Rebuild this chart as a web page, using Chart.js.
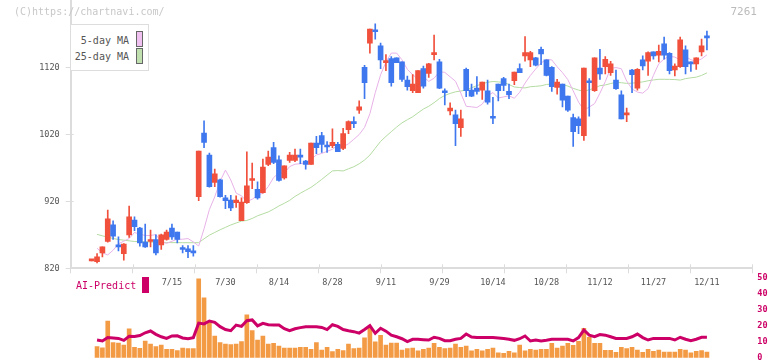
<!DOCTYPE html>
<html><head><meta charset="utf-8">
<script src="https://cdn.jsdelivr.net/npm/chart.js@4.4.1/dist/chart.umd.min.js"></script>
<style>
html,body{margin:0;padding:0;background:#fff;}
#wrap{position:relative;width:772px;height:361px;overflow:hidden;font-family:"DejaVu Sans Mono",monospace;}
canvas{position:absolute;left:0;}
#main{top:0;}
#sub{top:270px;}
.t{position:absolute;white-space:nowrap;line-height:10px;font-size:10px;}
</style></head><body>
<div id="wrap">
<canvas id="main" width="772" height="300" style="width:772px;height:300px"></canvas>
<canvas id="sub" width="772" height="91" style="width:772px;height:91px"></canvas>
<div class="t" style="left:14px;top:7px;color:#c8c8c8;">(C)https://chartnavi.com/</div>
<div class="t" style="right:15px;top:7px;color:#bbb;font-size:11px;">7261</div>
<div style="position:absolute;left:70px;top:24px;width:77px;height:45px;border:1px solid #ddd;background:#fff;"></div>
<div class="t" style="right:643px;top:36px;color:#555;">5-day MA</div>
<div class="t" style="right:643px;top:52px;color:#555;">25-day MA</div>
<div style="position:absolute;left:136px;top:31px;width:5px;height:14px;border:1px solid #666;background:#f0c0f0;"></div>
<div style="position:absolute;left:136px;top:48px;width:5px;height:14px;border:1px solid #666;background:#c0e0b0;"></div>
<div class="t" style="left:76px;top:281px;color:#cc0066;">AI-Predict</div>
<div style="position:absolute;left:142px;top:277px;width:7px;height:16px;background:#cc0066;"></div>
</div>
<script>
// ---- data ----
const dates = [
 '6/24','6/25','6/26','6/27','6/30','7/1','7/2','7/3','7/4','7/7',
 '7/8','7/9','7/10','7/11','7/14','7/15','7/16','7/17','7/18','7/22',
 '7/23','7/24','7/25','7/28','7/29','7/30','7/31','8/1','8/4','8/5',
 '8/6','8/7','8/8','8/12','8/13','8/14','8/15','8/18','8/19','8/20',
 '8/21','8/22','8/25','8/26','8/27','8/28','8/29','9/1','9/2','9/3',
 '9/4','9/5','9/8','9/9','9/10','9/11','9/12','9/16','9/17','9/18',
 '9/19','9/22','9/24','9/25','9/26','9/29','9/30','10/1','10/2','10/3',
 '10/6','10/7','10/8','10/9','10/10','10/14','10/15','10/16','10/17','10/20',
 '10/21','10/22','10/23','10/24','10/27','10/28','10/29','10/30','10/31','11/4',
 '11/5','11/6','11/7','11/10','11/11','11/12','11/13','11/14','11/17','11/18',
 '11/19','11/20','11/21','11/25','11/26','11/27','11/28','12/1','12/2','12/3',
 '12/4','12/5','12/8','12/9','12/10','12/11'];
const tickLabels = ['7/15','7/30','8/14','8/28','9/11','9/29','10/14','10/28','11/12','11/27','12/11'];
const yTicks = [820, 920, 1020, 1120];
const open = [
 831,830,843,860,885,853,842,870,892,880,
 859,860,863,855,863,880,874,849,849,846,
 927,1022,989,948,952,925,922,918,891,918,
 951,938,933,975,1000,982,955,981,981,987,
 980,975,1007,1018,1002,1003,1005,999,1027,1037,
 1056,1120,1156,1174,1152,1127,1133,1134,1128,1101,
 1085,1082,1118,1111,1139,1128,1083,1055,1049,1030,
 1117,1086,1089,1086,1085,1046,1095,1103,1084,1100,
 1118,1137,1131,1134,1147,1131,1120,1090,1095,1077,
 1045,1043,1018,1098,1085,1119,1121,1112,1101,1079,
 1049,1116,1089,1131,1129,1143,1138,1155,1141,1116,
 1121,1146,1126,1125,1143,1165];
const high = [
 831,842,852,907,891,867,857,913,897,881,
 886,877,870,871,877,886,874,854,854,854,
 995,1040,992,968,953,929,929,928,925,994,
 977,949,983,995,1008,988,973,993,998,998,
 981,1007,1017,1023,1009,1028,1008,1029,1040,1046,
 1070,1123,1177,1185,1156,1139,1136,1134,1128,1107,
 1109,1115,1122,1126,1168,1132,1088,1067,1056,1056,
 1119,1095,1106,1098,1101,1075,1095,1105,1095,1113,
 1125,1166,1144,1135,1150,1131,1121,1102,1095,1077,
 1050,1046,1119,1103,1134,1147,1136,1129,1116,1085,
 1059,1117,1118,1137,1143,1143,1153,1165,1142,1125,
 1165,1152,1128,1134,1162,1174];
const low = [
 831,828,837,859,863,846,832,866,876,853,
 851,852,840,848,862,863,858,843,836,838,
 921,1000,941,942,926,909,906,911,891,917,
 939,923,932,973,976,950,953,978,979,976,
 968,975,991,993,993,1000,994,997,1021,1030,
 1051,1073,1141,1162,1118,1115,1092,1127,1099,1086,
 1082,1082,1089,1105,1131,1088,1064,1049,1003,1017,
 1076,1076,1080,1072,1065,1036,1070,1085,1073,1094,
 1112,1129,1121,1122,1124,1107,1084,1080,1061,1054,
 1002,1021,1011,1047,1084,1102,1110,1108,1087,1043,
 1039,1082,1086,1116,1108,1132,1128,1132,1110,1107,
 1120,1110,1114,1117,1137,1146];
const close = [
 831,837,852,894,868,852,856,897,882,858,
 852,863,843,870,874,867,863,848,845,843,
 995,1008,942,961,927,921,910,922,919,943,
 952,925,971,986,978,951,973,989,989,986,
 975,1007,1000,1005,1001,1008,994,1021,1039,1036,
 1061,1097,1177,1173,1131,1128,1097,1127,1102,1091,
 1095,1115,1092,1125,1141,1089,1082,1059,1036,1043,
 1085,1077,1084,1098,1068,1044,1085,1093,1079,1113,
 1112,1142,1142,1123,1140,1108,1091,1098,1071,1056,
 1024,1033,1119,1097,1134,1110,1132,1125,1088,1043,
 1050,1109,1117,1122,1142,1137,1144,1138,1115,1122,
 1161,1121,1125,1134,1152,1164];
const ma5 = [
 null,850,843,840,847,856.4,860.6,864.4,873.4,871.0,
 869.0,869.0,870.4,859.6,857.2,860.4,863.4,863.4,864.4,859.4,
 853.2,878.8,907.8,926.6,949.8,966.6,951.8,932.2,928.2,919.8,
 923.0,929.2,932.2,942.0,955.4,962.4,962.2,971.8,975.4,976.0,
 977.6,982.4,989.2,991.4,994.6,997.6,1004.2,1001.6,1005.8,1012.6,
 1019.6,1030.2,1050.8,1082.0,1108.8,1127.8,1141.2,1141.2,1131.2,1117.0,
 1109.0,1102.4,1106.0,1099.0,1103.6,1113.6,1112.4,1105.8,1099.2,1081.4,
 1061.8,1061.0,1060.0,1065.0,1077.4,1082.4,1074.2,1075.8,1077.6,1073.8,
 1082.8,1096.4,1107.8,1117.6,1126.4,1131.8,1131.0,1120.8,1112.0,1101.6,
 1084.8,1068.0,1056.4,1060.6,1065.8,1081.4,1098.6,1118.4,1119.6,1117.8,
 1099.6,1087.6,1083.0,1081.4,1088.2,1108.0,1125.4,1132.4,1136.6,1135.2,
 1131.2,1136.0,1131.4,1128.8,1132.6,1138.6];
const ma25 = [
 null,870.7,868.5,866.5,864.5,863,862,861,860,859.8,
 859.5,859.2,859,858.8,858.5,858.3,858.3,858.2,858.2,858.2,
 858.3,864,869.5,873.5,877.5,881.1,884.7,887.6,890.4,891.4,
 894.4,898.4,901.2,904.1,908.3,913.1,917.0,921.4,927.3,932.0,
 936.5,940.8,946.6,952.7,959.1,965.4,965.9,965.3,968.5,971.6,
 976.0,981.6,989.0,999.2,1009.4,1016.9,1023.9,1030.8,1037.1,1041.7,
 1046.2,1052.0,1057.7,1061.8,1067.2,1073.4,1078.0,1081.0,1083.4,1084.6,
 1086.3,1089.4,1092.7,1095.2,1097.6,1098.8,1098.2,1097.7,1094.3,1090.6,
 1089.8,1089.2,1091.0,1091.6,1092.4,1094.4,1094.9,1093.9,1094.2,1092.0,
 1088.6,1086.0,1084.1,1086.5,1088.9,1092.6,1093.6,1095.8,1097.4,1097.0,
 1096.0,1096.3,1097.2,1098.2,1099.9,1101.1,1102.1,1102.1,1102.0,1101.7,
 1100.9,1103.1,1104.3,1105.3,1107.9,1111.7];
const aiBars = [
 null,6.9,6.2,22.8,9.4,9.1,7.9,17.9,6.5,5.8,
 10.4,8.5,6.9,7.9,5.2,5.2,4.4,6.0,5.6,5.6,
 49.0,37.3,21.8,13.5,9.4,8.5,8.1,8.5,10.0,26.6,
 16.8,11.0,13.5,8.5,9.0,7.3,6.0,6.0,6.0,6.5,
 6.5,5.2,9.4,4.8,6.5,3.8,5.2,4.4,8.5,5.6,
 6.0,12.3,18.3,9.8,13.9,7.9,9.1,9.1,4.8,5.6,
 6.0,4.2,5.2,6.0,9.0,6.5,5.6,6.0,8.5,6.5,
 7.3,4.2,5.2,4.2,5.2,6.0,3.0,2.7,4.0,3.0,
 7.9,4.2,5.2,4.8,5.2,5.2,9.0,6.0,7.3,9.0,
 7.7,10.2,18.3,12.7,9.0,9.0,4.6,4.6,3.3,6.5,
 5.6,6.5,4.8,3.3,5.2,4.0,4.8,3.5,3.5,3.5,
 5.2,4.8,3.1,4.0,4.4,3.5];
const aiLine = [
 null,11.0,10.4,12.5,12.3,12.0,10.8,13.3,13.2,13.8,
 15.5,16.6,14.5,13.0,12.0,13.5,13.6,12.3,11.8,12.5,
 21.5,21.0,22.8,22.0,19.3,17.5,16.8,20.3,19.5,23.0,
 23.5,19.8,21.4,20.5,20.3,20.3,18.0,16.8,18.0,18.7,
 19.3,19.3,19.3,18.8,17.5,20.5,19.5,17.5,16.8,16.2,
 15.3,17.5,19.9,15.2,18.3,16.5,14.0,13.0,11.8,10.0,
 11.4,11.4,11.2,11.0,12.7,12.0,10.6,10.6,11.5,12.0,
 14.7,12.8,12.5,12.5,12.5,12.5,12.3,12.0,11.5,10.8,
 11.8,13.5,10.4,11.0,10.4,10.8,11.4,11.4,11.4,11.4,
 10.4,12.5,17.2,14.0,13.1,14.4,14.0,13.0,12.0,12.0,
 12.0,13.0,14.7,12.5,11.0,12.0,12.0,12.0,12.0,11.0,
 12.7,11.5,10.6,11.5,12.7,12.7];

// ---- styling / layout constants ----
const UP = '#f0503c', DOWN = '#3f78ee';
const AXIS = '#dcdcdc';
const XMIN = -3.925, XMAX = 123.48;
const gridVals = Array.from({length: 12}, (_, k) => XMIN + k * (XMAX - XMIN) / 11);
const labelIdx = tickLabels.map(l => dates.indexOf(l));
const FONT = {family: '"DejaVu Sans Mono", monospace', size: 8.5};

const isUp = i => close[i] >= open[i];
const colors = dates.map((_, i) => isUp(i) ? UP : DOWN);
const pts = arr => arr.map((v, i) => ({x: i, y: v})).filter(p => p.y !== null);

// small inward extension of the axis tick marks (ticks cross the axis line)
const crossTicks = {
  id: 'crossTicks',
  afterDraw(chart) {
    const {ctx, chartArea, scales} = chart;
    ctx.save();
    ctx.strokeStyle = AXIS; ctx.lineWidth = 1;
    ctx.beginPath();
    gridVals.forEach(v => {
      const px = Math.round(scales.x.getPixelForValue(v)) + 0.5;
      ctx.moveTo(px, chartArea.bottom); ctx.lineTo(px, chartArea.bottom - 4);
    });
    yTicks.forEach(v => {
      const py = Math.round(scales.y.getPixelForValue(v)) + 0.5;
      ctx.moveTo(chartArea.left, py); ctx.lineTo(chartArea.left + 3, py);
    });
    ctx.stroke();
    ctx.restore();
  }
};

new Chart(document.getElementById('main'), {
  data: {
    datasets: [
      {type: 'bar', label: 'body', data: dates.map((_, i) => ({x: i, y: [open[i], close[i]]})),
       backgroundColor: colors, borderWidth: 0, barThickness: 5, grouped: false, minBarLength: 2, order: 1},
      {type: 'bar', label: 'wick', data: dates.map((_, i) => ({x: i, y: [low[i], high[i]]})),
       backgroundColor: colors, borderWidth: 0, barThickness: 1, grouped: false, order: 2},
      {type: 'line', label: '5-day MA', data: pts(ma5), borderColor: '#e8b2e8', borderWidth: 1,
       pointRadius: 0, tension: 0, order: 3},
      {type: 'line', label: '25-day MA', data: pts(ma25), borderColor: '#b4dca2', borderWidth: 1,
       pointRadius: 0, tension: 0, order: 4}
    ]
  },
  plugins: [crossTicks],
  options: {
    responsive: false, animation: false, devicePixelRatio: 1,
    layout: {padding: {left: 0, right: 19.7, top: 0.3, bottom: 0}},
    plugins: {legend: {display: false}, tooltip: {enabled: false}},
    scales: {
      x: {
        type: 'linear', min: XMIN, max: XMAX, offset: false,
        grid: {offset: false, drawOnChartArea: false, tickLength: 5, lineWidth: 1,
               color: c => (c.tick && Number.isInteger(c.tick.value)) ? 'rgba(0,0,0,0)' : AXIS},
        border: {display: true, color: AXIS, width: 2},
        ticks: {autoSkip: false, maxRotation: 0, font: FONT, color: '#555', padding: 4,
                callback: v => { const j = labelIdx.indexOf(v); return j >= 0 ? tickLabels[j] : ''; }},
        afterBuildTicks: a => { a.ticks = gridVals.concat(labelIdx).sort((p, q) => p - q).map(v => ({value: v})); },
        afterFit: a => { a.height = 31.7; a.paddingLeft = 0; a.paddingRight = 0; }
      },
      y: {
        type: 'linear', position: 'left', min: 820, max: 1220,
        grid: {drawOnChartArea: false, tickLength: 5, color: AXIS},
        border: {display: true, color: AXIS, width: 2},
        ticks: {font: FONT, color: '#555', padding: 6, callback: v => String(v)},
        afterBuildTicks: a => { a.ticks = yTicks.map(v => ({value: v})); },
        afterFit: a => { a.width = 70.7; a.paddingTop = 0; a.paddingBottom = 0; }
      }
    }
  }
});

new Chart(document.getElementById('sub'), {
  data: {
    datasets: [
      {type: 'line', label: 'AI-Predict', data: pts(aiLine), borderColor: '#cc0066', borderWidth: 3,
       pointRadius: 0, tension: 0, yAxisID: 'y', order: 0},
      {type: 'bar', label: 'bars', data: pts(aiBars), backgroundColor: '#f39a45', borderWidth: 0,
       barThickness: 4, grouped: false, yAxisID: 'y', order: 1}
    ]
  },
  options: {
    responsive: false, animation: false, devicePixelRatio: 1,
    layout: {padding: {left: 70.7, right: 0, top: 7.3, bottom: 3.3}},
    plugins: {legend: {display: false}, tooltip: {enabled: false}},
    scales: {
      x: {type: 'linear', min: XMIN, max: XMAX, offset: false, display: false, grid: {offset: false}},
      y: {
        type: 'linear', position: 'right', min: 0, max: 50,
        grid: {display: false, drawTicks: false}, border: {display: false},
        ticks: {stepSize: 10, padding: 5, color: '#cc0066', font: {family: '"DejaVu Sans Mono", monospace', size: 8.5, weight: 'bold'}},
        afterFit: a => { a.width = 19.7; a.paddingTop = 0; a.paddingBottom = 0; }
      }
    }
  }
});
</script>
</body></html>
